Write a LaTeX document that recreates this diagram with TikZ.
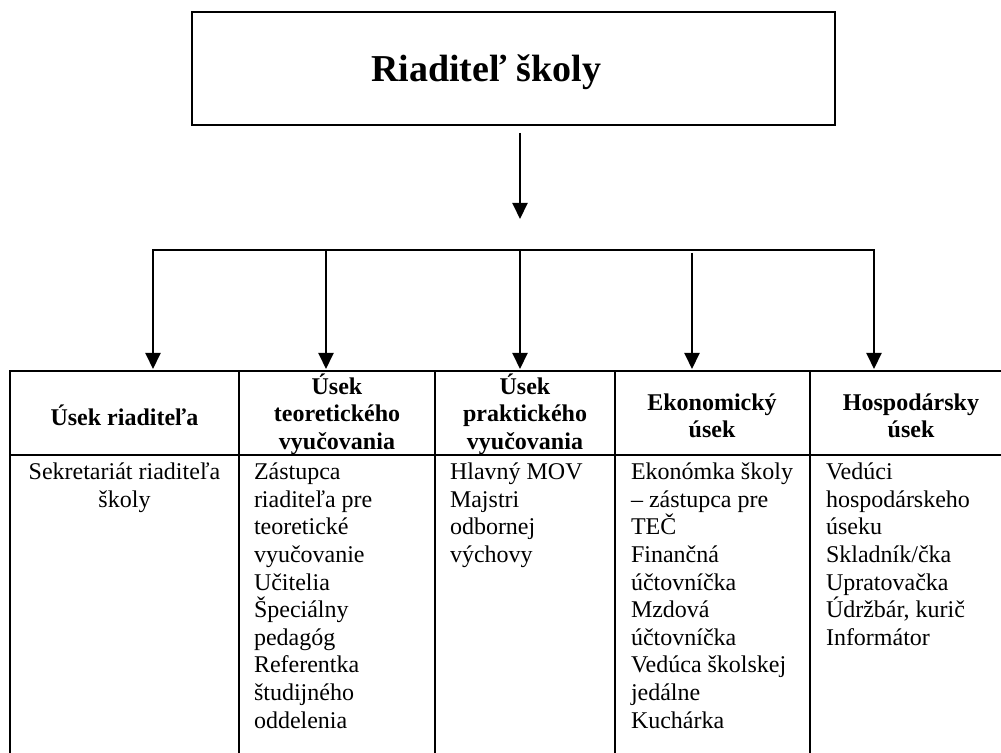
\documentclass[tikz,border=0pt]{standalone}
\usepackage{fontspec}
\setmainfont{Liberation Serif}
\usetikzlibrary{arrows.meta}
\begin{document}
\begin{tikzpicture}[x=0.5pt, y=-0.5pt, line width=1pt,
  tip/.style={-{Triangle[width=7.5pt,length=8pt]}},
  head/.style={font=\fontsize{12}{13.8}\selectfont\bfseries, align=center, inner sep=0pt},
  cell/.style={font=\fontsize{12}{13.8}\selectfont, align=left, inner sep=0pt, anchor=north west}]
\useasboundingbox (0,0) rectangle (1001,753);
\node[draw, minimum width=321.5pt, minimum height=56.5pt] (dir) at (513.5,68.5) {};
\node[font=\fontsize{19}{22}\selectfont\bfseries, anchor=base] (dirname) at (486,82) {Riaditeľ školy};
\coordinate (dirout) at (520,133);
\coordinate (busin) at (520,219);
\draw[tip] (dirout) -- (busin);
\foreach \k/\x in {1/153, 2/326, 3/520, 4/692, 5/874}
  {\coordinate (b\k) at (\x,250);
   \coordinate (t\k) at (\x,369);};
\draw[{Triangle[width=7.5pt,length=8pt]}-{Triangle[width=7.5pt,length=8pt]}]
  (t1) -- (b1) -- (b5) -- (t5);
\foreach \k in {2,3}
  \draw[tip] (b\k) -- (t\k);
\draw[tip] ([yshift=-1.5pt]b4) -- (t4);
\draw (10,753) -- (10,371) -- (1001,371);
\draw (10,455) -- (1001,455);
\foreach \x in {239, 435, 615, 810}
  \draw (\x,371) -- (\x,753);
\node[head] (h1) at (124.5,415) {Úsek riaditeľa};
\node[head] (h2) at (337,414) {Úsek\\teoretického\\vyučovania};
\node[head] (h3) at (525,414) {Úsek\\praktického\\vyučovania};
\node[head] (h4) at (712,416) {Ekonomický\\úsek};
\node[head] (h5) at (911,416) {Hospodársky\\úsek};
\node[cell, align=center, anchor=north] (c1) at (124.5,462) {Sekretariát riaditeľa\\školy};
\node[cell] (c2) at (253,462) {Zástupca\\riaditeľa pre\\teoretické\\vyučovanie\\Učitelia\\Špeciálny\\pedagóg\\Referentka\\študijného\\oddelenia};
\node[cell] (c3) at (449,462) {Hlavný MOV\\Majstri\\odbornej\\výchovy};
\node[cell] (c4) at (630,462) {Ekonómka školy\\– zástupca pre\\TEČ\\Finančná\\účtovníčka\\Mzdová\\účtovníčka\\Vedúca školskej\\jedálne\\Kuchárka};
\node[cell] (c5) at (825,462) {Vedúci\\hospodárskeho\\úseku\\Skladník/čka\\Upratovačka\\Údržbár, kurič\\Informátor};
\end{tikzpicture}
\end{document}
